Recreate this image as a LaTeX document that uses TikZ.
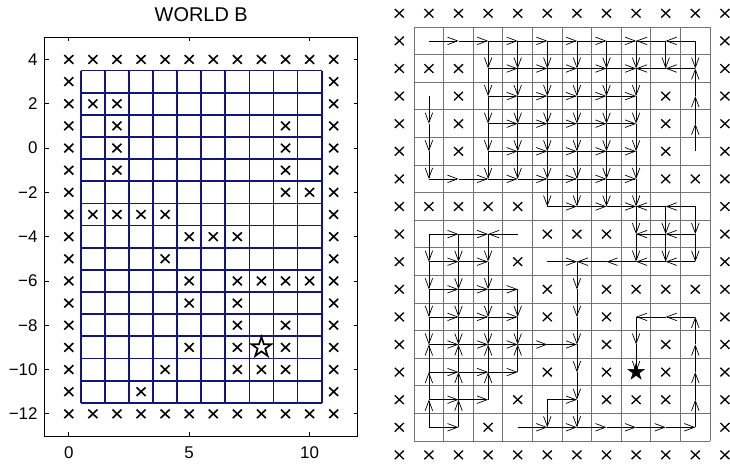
\documentclass[tikz,border=0pt]{standalone}
\usepackage{fontspec}
\setmainfont{Liberation Sans}
\usetikzlibrary{arrows.meta,shapes.geometric}
\definecolor{gridnavy}{RGB}{20,20,125}
\tikzset{
  lgrid/.style={draw=gridnavy,line width=1.8bp},
  rgrid/.style={draw=black!55,line width=1bp},
  axbox/.style={draw=black,line width=0.9bp},
  tickmark/.style={draw=black,line width=0.7bp},
  ticklabel/.style={font=\fontsize{17}{19}\selectfont,inner sep=0pt},
  titlelabel/.style={font=\fontsize{20}{24}\selectfont,inner sep=0pt},
  pathline/.style={draw=black,line width=0.7bp,-{Straight Barb[length=10bp,width=7.5bp]}},
  crossmark/.pic={\draw (-4.5bp,-4.3bp)--(4.5bp,4.3bp) (-4.5bp,4.3bp)--(4.5bp,-4.3bp);},
  openstar/.style={star,star points=5,star point ratio=2.618,minimum size=21bp,inner sep=0pt,draw=black,line width=1.7bp,fill=white},
  fullstar/.style={star,star points=5,star point ratio=2.618,minimum size=17bp,inner sep=0pt,draw=black,fill=black,line width=0.5bp}
}
\begin{document}
\begin{tikzpicture}
\useasboundingbox (0,0) rectangle (730bp,466bp);
% ---------------- left panel ----------------
\begin{scope}[shift={(68.8bp,317.95bp)},x=24.08bp,y=22.15bp]
  \node[titlelabel,anchor=base] (title) at (5.5,5.70) {WORLD B};
  \draw[axbox] (-1,-13) rectangle (12,5);
  \foreach \t in {0,5,10}{
    \draw[tickmark] (\t,-13) -- ++(0,4bp);
    \draw[tickmark] (\t,5) -- ++(0,-4bp);
    \node[ticklabel,anchor=north] (xl\t) at ([yshift=-10.5bp]\t,-13) {\t};
  }
  \foreach \t/\s in {4/4,2/2,0/0,-2/−2,-4/−4,-6/−6,-8/−8,-10/−10,-12/−12}{
    \draw[tickmark] (-1,\t) -- ++(4bp,0);
    \draw[tickmark] (12,\t) -- ++(-4bp,0);
    \node[ticklabel,anchor=east] (yl\t) at ([xshift=-7bp]-1,\t) {\s};
  }
  \foreach \i in {0,...,10}{\draw[lgrid] (\i+0.5,-11.5) -- (\i+0.5,3.5);}
  \foreach \j in {-11,...,4}{\draw[lgrid] (0.5,\j-0.5) -- (10.5,\j-0.5);}
  \begin{scope}[line width=1.6bp]
  \foreach \i in {0,...,11}{\pic at (\i,4) {crossmark}; \pic at (\i,-12) {crossmark};}
  \foreach \j in {-11,...,3}{\pic at (0,\j) {crossmark}; \pic at (11,\j) {crossmark};}
  \foreach \x/\y in {1/2,2/2,2/1,9/1,2/0,9/0,2/-1,9/-1,9/-2,10/-2,1/-3,2/-3,3/-3,4/-3,
     5/-4,6/-4,7/-4,4/-5,5/-6,7/-6,8/-6,9/-6,10/-6,5/-7,7/-7,7/-8,9/-8,5/-9,7/-9,9/-9,
     4/-10,7/-10,8/-10,9/-10,3/-11}{\pic at (\x,\y) {crossmark};}
  \end{scope}
  \node[openstar] (lstar) at (8,-9) {};
\end{scope}
% ---------------- right panel ----------------
\begin{scope}[shift={(399.3bp,342.3bp)},x=29.6bp,y=27.6bp]
  \foreach \i in {0,...,11}{\foreach \j in {-12,...,4}{\coordinate (r-\i-\j) at (\i,\j);}}
  \foreach \i in {0,...,10}{\draw[rgrid] (\i+0.5,-11.5) -- (\i+0.5,3.5);}
  \foreach \j in {-11,...,4}{\draw[rgrid] (0.5,\j-0.5) -- (10.5,\j-0.5);}
  % moves to the right
  \foreach \y/\xs/\xe in {3/1/7,2/3/7,1/3/7,0/3/7,-1/3/7,-2/1/7,-3/5/7,-4/1/2,-5/1/2,-5/5/5,
      -6/1/3,-7/1/3,-8/1/5,-9/1/3,-10/1/2,-10/5/5,-11/1/1,-11/4/9}{
    \foreach \x in {\xs,...,\xe}{\pgfmathtruncatemacro\nx{\x+1}\draw[pathline] (r-\x-\y) -- (r-\nx-\y);}}
  % moves to the left
  \foreach \x/\y in {10/3,9/3,10/2,9/2,10/-3,9/-3,9/-4,10/-4,9/-5,10/-5,8/-5,7/-5,4/-4,10/-7,9/-7}{
    \pgfmathtruncatemacro\nx{\x-1}\draw[pathline] (r-\x-\y) -- (r-\nx-\y);}
  % moves down
  \foreach \x/\ys/\ye in {3/3/-1,4/3/-1,5/3/-2,6/3/-2,7/3/-2,8/3/-2,9/3/3,10/3/3,1/1/-1,
      8/-3/-4,9/-3/-4,10/-3/-4,6/-5/-10,1/-4/-7,2/-4/-7,3/-4/-7,4/-6/-7,5/-10/-10,8/-7/-8}{
    \foreach \y in {\ys,...,\ye}{\pgfmathtruncatemacro\ny{\y-1}\draw[pathline] (r-\x-\y) -- (r-\x-\ny);}}
  % moves up
  \foreach \x/\ys/\ye in {10/-1/1,1/-9/-11,2/-9/-11,3/-9/-10,4/-9/-9,10/-8/-11}{
    \foreach \y in {\ys,...,\ye}{\pgfmathtruncatemacro\ny{\y+1}\draw[pathline] (r-\x-\y) -- (r-\x-\ny);}}
  \begin{scope}[line width=1.3bp]
  \foreach \i in {0,...,11}{\pic at (r-\i-4) {crossmark}; \pic at (r-\i--12) {crossmark};}
  \foreach \j in {-11,...,3}{\pic at (r-0-\j) {crossmark}; \pic at (r-11-\j) {crossmark};}
  \foreach \x/\y in {1/2,2/2,2/1,9/1,2/0,9/0,2/-1,9/-1,9/-2,10/-2,1/-3,2/-3,3/-3,4/-3,
     5/-4,6/-4,7/-4,4/-5,5/-6,7/-6,8/-6,9/-6,10/-6,5/-7,7/-7,7/-8,9/-8,5/-9,7/-9,9/-9,
     4/-10,7/-10,8/-10,9/-10,3/-11}{\pic at (r-\x-\y) {crossmark};}
  \end{scope}
  \node[fullstar] (rstar) at (r-8--9) {};
\end{scope}
\end{tikzpicture}
\end{document}
